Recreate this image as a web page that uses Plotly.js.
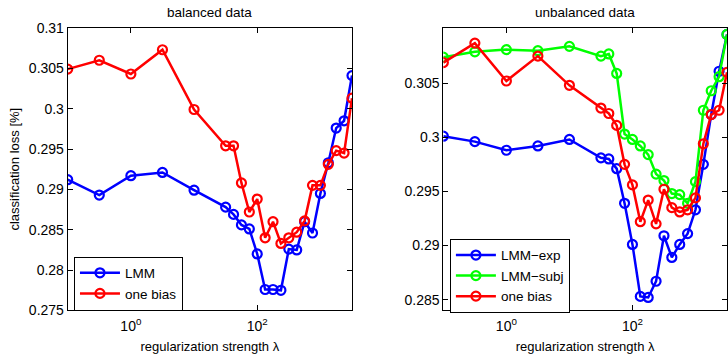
<!DOCTYPE html>
<html>
<head>
<meta charset="utf-8">
<script src="https://cdn.plot.ly/plotly-3.0.1.min.js"></script>
<style>html,body{margin:0;padding:0;background:#fff;}#chart{width:728px;height:354px;}</style>
</head>
<body>
<div id="chart"></div>
<script>
// regularization strength lambda (same grid for both panels)
const lambda = [0.1, 0.3162, 1, 3.162, 10, 31.62, 42.17, 56.23, 74.99, 100, 133.4, 177.8, 237.1, 316.2, 421.7, 562.3, 749.9, 1000, 1334, 1778, 2371, 3162];

// balanced data
const balLMM = [0.2912, 0.2893, 0.2917, 0.2921, 0.2899, 0.2878, 0.2869, 0.2856, 0.2851, 0.2820, 0.2776, 0.2776, 0.2775, 0.2826, 0.2825, 0.2860, 0.2846, 0.2895, 0.2933, 0.2976, 0.2985, 0.3041];
const balOneBias = [0.3049, 0.3060, 0.3043, 0.3073, 0.2999, 0.2954, 0.2954, 0.2908, 0.2872, 0.2888, 0.2840, 0.2860, 0.2833, 0.2840, 0.2847, 0.2861, 0.2905, 0.2905, 0.2931, 0.2948, 0.2945, 0.3013];

// unbalanced data
const unbLMMexp = [0.3001, 0.2996, 0.2988, 0.2992, 0.2998, 0.2981, 0.2980, 0.2971, 0.2939, 0.2901, 0.2853, 0.2852, 0.2867, 0.2909, 0.2889, 0.2901, 0.2911, 0.2933, 0.2975, 0.3021, 0.3061, 0.3095];
const unbLMMsubj = [0.3074, 0.3079, 0.3081, 0.3080, 0.3084, 0.3075, 0.3077, 0.3059, 0.3003, 0.2998, 0.2992, 0.2984, 0.2966, 0.2960, 0.2948, 0.2947, 0.2939, 0.2959, 0.3025, 0.3043, 0.3056, 0.3095];
const unbOneBias = [0.3069, 0.3087, 0.3052, 0.3075, 0.3048, 0.3027, 0.3022, 0.3011, 0.2975, 0.2956, 0.2922, 0.2942, 0.2920, 0.2952, 0.2935, 0.2931, 0.2933, 0.2944, 0.2994, 0.3021, 0.3025, 0.3060];

const xTickVals = [1, 100];
const xTickText = ['10<sup>0</sup>', '10<sup>2</sup>'];
const yTickValsL = [0.275, 0.28, 0.285, 0.29, 0.295, 0.3, 0.305, 0.31];
const yTickTextL = ['0.275', '0.28', '0.285', '0.29', '0.295', '0.3', '0.305', '0.31'];
const yTickValsR = [0.285, 0.29, 0.295, 0.3, 0.305];
const yTickTextR = ['0.285', '0.29', '0.295', '0.3', '0.305'];

const FONT = 'Liberation Sans, Arial, Helvetica, sans-serif';

function tr(y, name, color, xa, ya, leg) {
  return {
    x: lambda, y: y, name: name, type: 'scatter', mode: 'lines+markers',
    xaxis: xa, yaxis: ya, legend: leg,
    line: {color: color, width: 2.5},
    marker: {symbol: 'circle-open', size: 9, color: color, line: {color: color, width: 2.2}}
  };
}

const data = [
  tr(balLMM, 'LMM', '#0000ff', 'x', 'y', 'legend'),
  tr(balOneBias, 'one bias', '#ff0000', 'x', 'y', 'legend'),
  tr(unbLMMexp, 'LMM\u2212exp', '#0000ff', 'x2', 'y2', 'legend2'),
  tr(unbLMMsubj, 'LMM\u2212subj', '#00ff00', 'x2', 'y2', 'legend2'),
  tr(unbOneBias, 'one bias', '#ff0000', 'x2', 'y2', 'legend2')
];

const xBase = {
  type: 'log', range: [-1, 3.5], tickvals: xTickVals, ticktext: xTickText,
  ticks: 'inside', ticklen: 5, tickcolor: '#000', showline: true, linecolor: '#000', linewidth: 1,
  mirror: 'ticks', showgrid: false, zeroline: false, fixedrange: true, ticklabelstandoff: 3,
  tickfont: {family: FONT, size: 14, color: '#000'},
  title: {text: 'regularization strength \u03bb', font: {family: FONT, size: 13, color: '#000'}, standoff: 8}
};
const yBase = {
  ticks: 'inside', ticklen: 5, tickcolor: '#000', showline: true, linecolor: '#000', linewidth: 1,
  mirror: 'ticks', showgrid: false, zeroline: false, fixedrange: true,
  tickfont: {family: FONT, size: 14, color: '#000'}
};

const layout = {
  width: 728, height: 354,
  margin: {l: 0, r: 0, t: 0, b: 0},
  paper_bgcolor: '#fff', plot_bgcolor: '#fff',
  font: {family: FONT, color: '#000'},
  xaxis: Object.assign({}, xBase, {domain: [0.093, 0.4835], anchor: 'y'}),
  yaxis: Object.assign({}, yBase, {domain: [0.123, 0.921], anchor: 'x', range: [0.275, 0.31],
    tickvals: yTickValsL, ticktext: yTickTextL,
    title: {text: 'classification loss [%]', font: {family: FONT, size: 13, color: '#000'}, standoff: 6}}),
  xaxis2: Object.assign({}, xBase, {domain: [0.609, 0.9986], anchor: 'y2'}),
  yaxis2: Object.assign({}, yBase, {domain: [0.123, 0.921], anchor: 'x2', range: [0.284, 0.3101],
    tickvals: yTickValsR, ticktext: yTickTextR}),
  legend: {x: 0.1016, y: 0.199, xanchor: 'left', yanchor: 'middle', bgcolor: '#fff', itemwidth: 40,
    bordercolor: '#000', borderwidth: 1, font: {family: FONT, size: 13.5, color: '#000'}, tracegroupgap: 0},
  legend2: {x: 0.618, y: 0.221, xanchor: 'left', yanchor: 'middle', bgcolor: '#fff', itemwidth: 40,
    bordercolor: '#000', borderwidth: 1, font: {family: FONT, size: 13.5, color: '#000'}, tracegroupgap: 0},
  showlegend: true,
  annotations: [
    {text: 'balanced data', x: 0.2882, y: 1 - 12 / 354, xref: 'paper', yref: 'paper', showarrow: false,
      xanchor: 'center', yanchor: 'middle', font: {family: FONT, size: 13.5, color: '#000'}},
    {text: 'unbalanced data', x: 0.8036, y: 1 - 12 / 354, xref: 'paper', yref: 'paper', showarrow: false,
      xanchor: 'center', yanchor: 'middle', font: {family: FONT, size: 13.5, color: '#000'}}
  ]
};

Plotly.newPlot('chart', data, layout, {staticPlot: true, displayModeBar: false});
</script>
</body>
</html>
